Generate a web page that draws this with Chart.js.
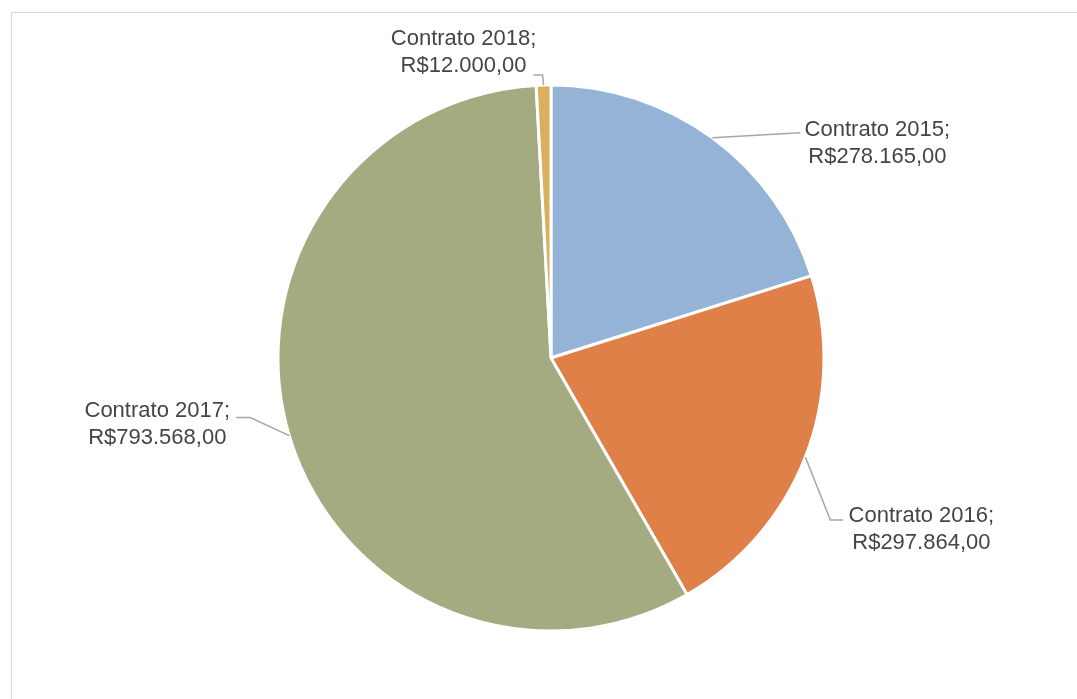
<!DOCTYPE html>
<html>
<head>
<meta charset="utf-8">
<script src="https://cdn.jsdelivr.net/npm/chart.js@4/dist/chart.umd.min.js"></script>
<style>
  html, body { margin: 0; padding: 0; background: #fff; overflow: hidden; }
  #frame { position: absolute; left: 11px; top: 12px; width: 1200px; height: 900px; border: 1px solid #d9d9d9; }
  #wrap { position: absolute; left: 0; top: 0; width: 1077px; height: 699px; }
</style>
</head>
<body>
<div id="frame"></div>
<div id="wrap"><canvas id="chart"></canvas></div>
<script>
const categories = ["Contrato 2015", "Contrato 2016", "Contrato 2017", "Contrato 2018"];
const values = [278165, 297864, 793568, 12000];
const valueLabels = ["R$278.165,00", "R$297.864,00", "R$793.568,00", "R$12.000,00"];
const colors = ["#95b3d7", "#df8048", "#a5ab80", "#d9b05e"];

// leader line bends and text centre, relative to the slice's outer midpoint
const labelStyle = [
  { path: [[88, -5]], text: [165, -8] },
  { path: [[25, 63], [38, 63]], text: [116, 59] },
  { path: [[-39, -18], [-53, -18]], text: [-132, -25] },
  { path: [[-1, -10], [-10, -10]], text: [-80, -46] }
];

const labelPlugin = {
  id: "pieLabels",
  afterDraw(chart) {
    const ctx = chart.ctx;
    const arcs = chart.getDatasetMeta(0).data;
    ctx.save();
    arcs.forEach((arc, i) => {
      const mid = (arc.startAngle + arc.endAngle) / 2;
      const ax = arc.x + Math.cos(mid) * arc.outerRadius;
      const ay = arc.y + Math.sin(mid) * arc.outerRadius;
      const st = labelStyle[i];
      ctx.strokeStyle = "#a6a6a6";
      ctx.lineWidth = 1.5;
      ctx.beginPath();
      ctx.moveTo(ax, ay);
      st.path.forEach(p => ctx.lineTo(ax + p[0], ay + p[1]));
      ctx.stroke();
      ctx.fillStyle = "#454545";
      ctx.font = "22px 'Liberation Sans', Arial, sans-serif";
      ctx.textAlign = "center";
      ctx.textBaseline = "middle";
      const tx = ax + st.text[0];
      const ty = ay + st.text[1];
      ctx.fillText(categories[i] + ";", tx, ty);
      ctx.fillText(valueLabels[i], tx, ty + 27);
    });
    ctx.restore();
  }
};

new Chart(document.getElementById("chart"), {
  type: "pie",
  data: {
    labels: categories,
    datasets: [{
      data: values,
      backgroundColor: colors,
      borderColor: "#ffffff",
      borderWidth: 3,
      radius: 273
    }]
  },
  options: {
    responsive: true,
    maintainAspectRatio: false,
    animation: false,
    layout: { padding: { left: 278, right: 253, top: 85, bottom: 68 } },
    plugins: {
      legend: { display: false },
      tooltip: { enabled: false }
    }
  },
  plugins: [labelPlugin]
});
</script>
</body>
</html>
